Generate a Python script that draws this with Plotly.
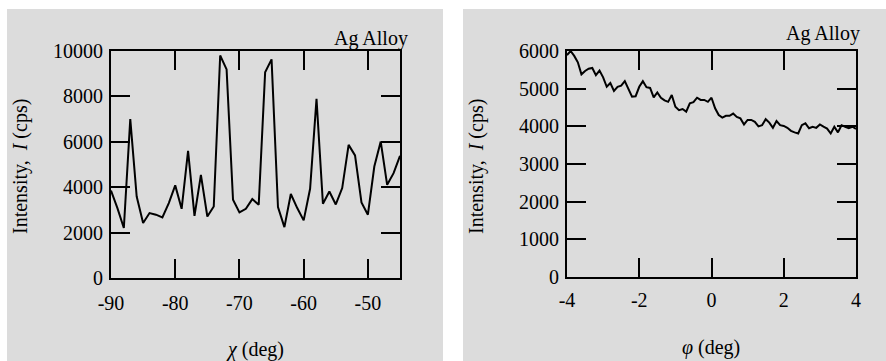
import plotly.graph_objects as go

# ---- data ----
chi_deg = list(range(-90, -44))
chi_intensity = [3850, 3080, 2200, 7000, 3590, 2420, 2860, 2790, 2670, 3300,
                 4080, 3050, 5600, 2740, 4545, 2710, 3150, 9800, 9190, 3450,
                 2890, 3050, 3475, 3225, 9060, 9630, 3120, 2240, 3700, 3080,
                 2540, 3930, 7890, 3270, 3810, 3240, 3960, 5865, 5400, 3330,
                 2790, 4910, 6010, 4105, 4620, 5380]

phi_deg = [round(-4 + 0.1 * i, 1) for i in range(81)]
phi_intensity = [5890, 6000, 5870, 5700, 5380, 5470, 5530, 5550, 5360, 5480,
                 5300, 5050, 5150, 4940, 5050, 5080, 5200, 5010, 4790, 4800,
                 5050, 5200, 5040, 5020, 4770, 4900, 4760, 4690, 4650, 4830,
                 4520, 4430, 4460, 4390, 4610, 4640, 4760, 4700, 4700, 4650,
                 4760, 4480, 4300, 4230, 4280, 4280, 4340, 4250, 4210, 4050,
                 4170, 4170, 4120, 4000, 4030, 4190, 4100, 3960, 4140, 4030,
                 4010, 3960, 3880, 3840, 3810, 4030, 4080, 3950, 3990, 3960,
                 4050, 3990, 3940, 3810, 3990, 3840, 4030, 3990, 3950, 3990,
                 3930]

# tick values / labels
chi_ticks = [-90, -80, -70, -60, -50]
chi_ticklabels = ["-90", "-80", "-70", "-60", "-50"]
chi_yticks = [0, 2000, 4000, 6000, 8000, 10000]
chi_yticklabels = ["0", "2000", "4000", "6000", "8000", "10000"]
phi_ticks = [-4, -2, 0, 2, 4]
phi_ticklabels = ["-4", "-2", "0", "2", "4"]
phi_yticks = [0, 1000, 2000, 3000, 4000, 5000, 6000]
phi_yticklabels = ["0", "1000", "2000", "3000", "4000", "5000", "6000"]

W, H = 886, 361
GREY = "#dcdcdc"
FONT = "Liberation Serif"
FS = 20

def px(x):
    return x / W

def py(y):
    return (H - y) / H

fig = go.Figure()
fig.add_trace(go.Scatter(x=chi_deg, y=chi_intensity, mode="lines",
                         line=dict(color="black", width=2), xaxis="x", yaxis="y",
                         showlegend=False))
fig.add_trace(go.Scatter(x=phi_deg, y=phi_intensity, mode="lines",
                         line=dict(color="black", width=2), xaxis="x2", yaxis="y2",
                         showlegend=False))

common = dict(showline=True, linecolor="black", linewidth=2, mirror="ticks",
              ticks="inside", ticklen=19, tickwidth=2, tickcolor="black",
              showgrid=False, zeroline=False, tickmode="array", automargin=False,
              tickfont=dict(family=FONT, size=FS, color="black"))

fig.update_layout(
    width=W, height=H,
    margin=dict(l=0, r=0, t=0, b=0, autoexpand=False),
    paper_bgcolor="white",
    plot_bgcolor="rgba(0,0,0,0)",
    font=dict(family=FONT, size=FS, color="black"),
    xaxis=dict(domain=[px(111), px(400)], range=[-90, -45],
               tickvals=chi_ticks, ticktext=chi_ticklabels,
               anchor="y", ticklabelstandoff=6, **common),
    yaxis=dict(domain=[py(278), py(51)], range=[0, 10000],
               tickvals=chi_yticks, ticktext=chi_yticklabels,
               anchor="x", ticklabelstandoff=2, **common),
    xaxis2=dict(domain=[px(567), px(856)], range=[-4, 4],
                tickvals=phi_ticks, ticktext=phi_ticklabels,
                anchor="y2", ticklabelstandoff=4, **common),
    yaxis2=dict(domain=[py(277), py(51)], range=[0, 6000],
                tickvals=phi_yticks, ticktext=phi_yticklabels,
                anchor="x2", ticklabelstandoff=2, **common),
    shapes=[
        dict(type="rect", xref="paper", yref="paper", x0=px(7), x1=px(443),
             y0=0, y1=py(9), fillcolor=GREY, line=dict(width=0), layer="below"),
        dict(type="rect", xref="paper", yref="paper", x0=px(463), x1=px(886),
             y0=0, y1=py(9), fillcolor=GREY, line=dict(width=0), layer="below"),
    ],
    annotations=[
        dict(text="Intensity,  <i>I</i> (cps)", xref="paper", yref="paper",
             x=px(20), y=py(167), textangle=-90, showarrow=False,
             xanchor="center", yanchor="middle", font=dict(family=FONT, size=FS)),
        dict(text="Intensity,  <i>I</i> (cps)", xref="paper", yref="paper",
             x=px(476), y=py(167), textangle=-90, showarrow=False,
             xanchor="center", yanchor="middle", font=dict(family=FONT, size=FS)),
        dict(text="<i>χ</i> (deg)", xref="paper", yref="paper",
             x=px(255), y=py(349), showarrow=False,
             xanchor="center", yanchor="middle", font=dict(family=FONT, size=FS)),
        dict(text="<i>φ</i> (deg)", xref="paper", yref="paper",
             x=px(711), y=py(347), showarrow=False,
             xanchor="center", yanchor="middle", font=dict(family=FONT, size=FS)),
        dict(text="Ag Alloy", xref="paper", yref="paper",
             x=px(410), y=py(39), showarrow=False,
             xanchor="right", yanchor="middle", font=dict(family=FONT, size=FS)),
        dict(text="Ag Alloy", xref="paper", yref="paper",
             x=px(862), y=py(34), showarrow=False,
             xanchor="right", yanchor="middle", font=dict(family=FONT, size=FS)),
    ],
)

fig.write_html("out.html")
